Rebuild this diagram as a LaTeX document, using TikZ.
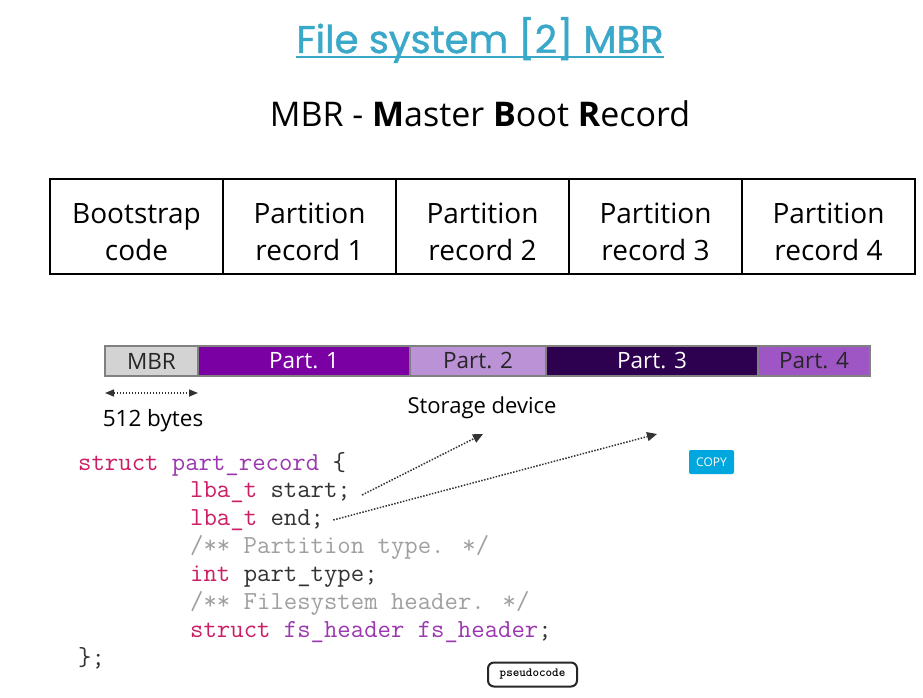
\documentclass[tikz,border=0pt]{standalone}
\usepackage{fontspec}
\setmainfont{Open Sans}
\newfontfamily\titlefont[FakeBold=1.2]{Poppins}
\newfontfamily\pcfont{lmmonolt10-bold.otf}
\usetikzlibrary{positioning,arrows.meta}

\definecolor{titleblue}{RGB}{58,168,201}
\definecolor{mbrgray}{RGB}{211,211,211}
\definecolor{partone}{RGB}{123,0,164}
\definecolor{parttwo}{RGB}{188,146,214}
\definecolor{partthree}{RGB}{45,0,80}
\definecolor{partfour}{RGB}{158,86,197}
\definecolor{barborder}{RGB}{128,128,128}
\definecolor{kwred}{RGB}{204,30,100}
\definecolor{idpurple}{RGB}{155,55,175}
\definecolor{cmtgray}{RGB}{160,160,160}
\definecolor{plaintext}{RGB}{51,51,51}
\definecolor{copyblue}{RGB}{0,166,222}

\newcommand{\kw}[1]{\textcolor{kwred}{#1}}
\newcommand{\ident}[1]{\textcolor{idpurple}{#1}}
\newcommand{\cmt}[1]{\textcolor{cmtgray}{#1}}
\newcommand{\twolines}[2]{\begin{tabular}[t]{@{}c@{}}#1\\#2\end{tabular}}

\begin{document}
\begin{tikzpicture}
[x=1pt, y=-1pt, node distance = 0 pt,
cell/.style={draw, line width=2pt, outer sep=0pt, minimum width=173pt, minimum height=95pt, inner sep=0pt, text height=30pt, text depth=37pt, font=\fontsize{28}{37}\selectfont},
seg/.style={draw=barborder, line width=2.5pt, outer sep=0pt, minimum height=30pt, inner sep=0pt, font=\fontsize{22.5}{26}\selectfont},
code/.style={anchor=base west, inner sep=0pt, text=plaintext, font=\ttfamily\fontsize{26}{28}\selectfont},
pointer/.style={line width=1.5pt, dash pattern=on 1.5pt off 1.5pt, draw=black!80, -{Triangle[length=10pt,width=9pt]}}]

\useasboundingbox (0,0) rectangle (923,698);
\fill[white] (0,0) rectangle (923,698);

\node[anchor=base, inner sep=0pt, text=titleblue, font=\titlefont\fontsize{38.5}{44}\selectfont] (title) at (480,53) {File system [2] MBR};
\draw[titleblue, line width=2pt] ([yshift=-4.5pt]title.base west) -- ([yshift=-4.5pt]title.base east);

\node[anchor=base, inner sep=0pt, font=\fontsize{34}{40}\selectfont] (subtitle) at (480,127) {MBR - \textbf{M}aster \textbf{B}oot \textbf{R}ecord};

%MBR layout
\node[cell, anchor=west] (boot) at (50,226.5) {\twolines{Bootstrap}{code}};
\node[cell, right=of boot] (rec1) {\twolines{Partition}{record 1}};
\node[cell, right=of rec1] (rec2) {\twolines{Partition}{record 2}};
\node[cell, right=of rec2] (rec3) {\twolines{Partition}{record 3}};
\node[cell, right=of rec3] (rec4) {\twolines{Partition}{record 4}};

%storage device
\node[seg, anchor=west, fill=mbrgray, minimum width=93pt, text=black!85] (mbr) at (105,361) {MBR};
\node[seg, right=of mbr, fill=partone, minimum width=212pt, text=white] (p1) {Part. 1};
\node[seg, right=of p1, fill=parttwo, minimum width=136pt, text=black!85] (p2) {Part. 2};
\node[seg, right=of p2, fill=partthree, minimum width=212pt, text=white] (p3) {Part. 3};
\node[seg, right=of p3, fill=partfour, minimum width=112pt, text=black!85] (p4) {Part. 4};

\coordinate (b1) at ([yshift=-17pt]mbr.south west);
\coordinate (b2) at ([yshift=-17pt]mbr.south east);
\draw[pointer, {Triangle[length=9pt,width=7pt]}-{Triangle[length=9pt,width=7pt]}] (b1) -- (b2);
\node[anchor=base, font=\fontsize{22.5}{26}\selectfont] (bytes) at (153,426) {512 bytes};
\node[anchor=base, font=\fontsize{22}{26}\selectfont] (storage) at (482,413) {Storage device};

%struct
\node[code] (srec) at (78,470) {\kw{struct} \ident{part\_record} \{};
\node[code] (sstart) at (190,497) {\kw{lba\_t} start;};
\node[code] (send) at (190,525) {\kw{lba\_t} end;};
\node[code] (scom1) at (190,553) {\cmt{/** Partition type. */}};
\node[code] (stype) at (190,581) {\kw{int} part\_type;};
\node[code] (scom2) at (190,609) {\cmt{/** Filesystem header. */}};
\node[code] (shead) at (190,637) {\kw{struct} \ident{fs\_header fs\_header};};
\node[code] (sclose) at (78,665) {\};};

\coordinate (tip1) at (483,434);
\coordinate (tip2) at (657,434);
\draw[pointer] ([xshift=11pt,yshift=2pt]sstart.base east) -- (tip1);
\draw[pointer] ([xshift=9pt,yshift=5pt]send.base east) -- (tip2);

\node[fill=copyblue, text=white, rounded corners=2pt, minimum width=45pt, minimum height=24pt, inner sep=0pt, font=\fontsize{12}{14}\selectfont] (copy) at (711.5,462) {COPY};
\node[draw=black!85, line width=2pt, rounded corners=6pt, minimum width=89pt, minimum height=24pt, inner sep=0pt, font=\pcfont\fontsize{12.5}{14}\selectfont] (pseudo) at (532.5,674.5) {pseudocode};
\end{tikzpicture}
\end{document}
